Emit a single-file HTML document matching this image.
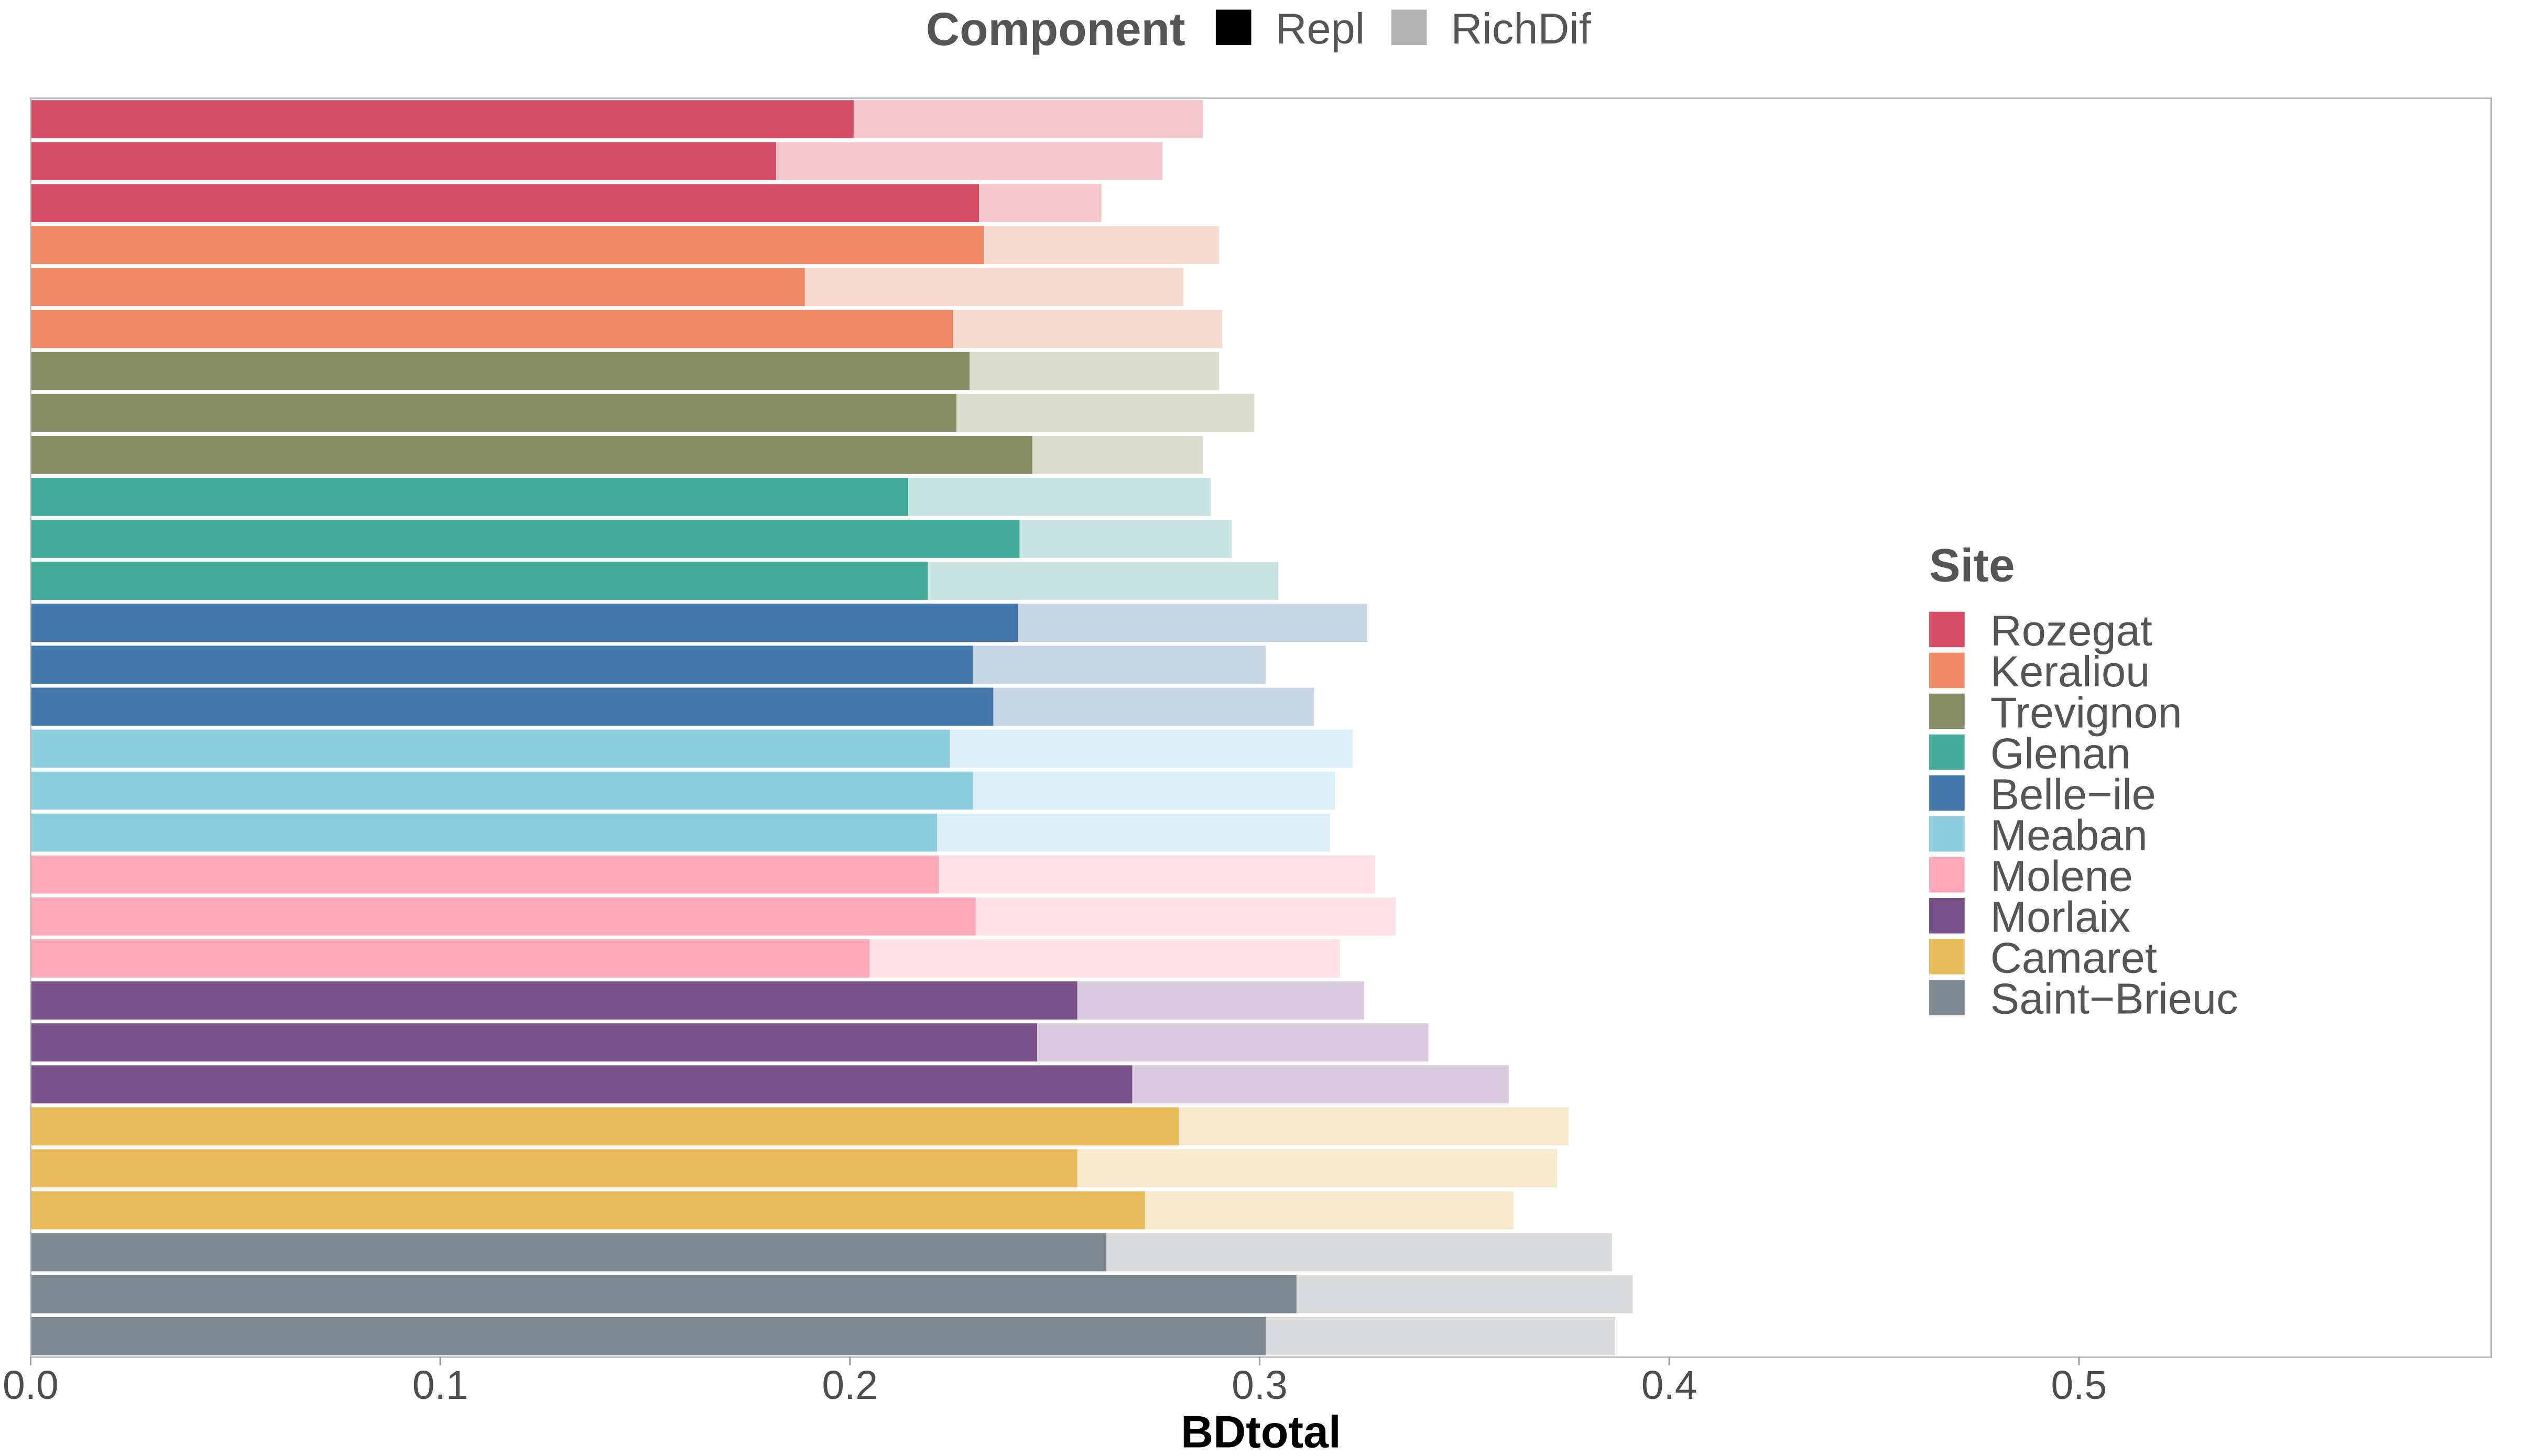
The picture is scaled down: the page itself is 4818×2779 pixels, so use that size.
<!DOCTYPE html>
<html><head><meta charset="utf-8"><style>
html,body{margin:0;padding:0;background:#fff}
svg{display:block;font-family:"Liberation Sans",Arial,sans-serif}
</style></head><body>
<svg id="chart" width="4818" height="2779" viewBox="0 0 1568 904.4" xmlns="http://www.w3.org/2000/svg">
<rect x="0" y="0" width="1568" height="905" fill="#fff"/>
<g id="bars"></g>
<rect x="19" y="61" width="1528" height="782" fill="none" stroke="#BDBDBD" stroke-width="1"/>
<g id="xaxis"></g>
<text x="783" y="899" text-anchor="middle" font-size="28" font-weight="bold" fill="#000">BDtotal</text>
<g>
<text x="575" y="28" font-size="29" font-weight="bold" fill="#555">Component</text>
<rect x="755" y="6" width="22" height="22" fill="#000"/>
<text x="792" y="27" font-size="27" fill="#555">Repl</text>
<rect x="864" y="6" width="22" height="22" fill="#B3B3B3"/>
<text x="901" y="27" font-size="27" fill="#555">RichDif</text>
</g>
<g id="sitelegend">
<text x="1198" y="361" font-size="29" font-weight="bold" fill="#555">Site</text>
</g>
</svg>
<script>
const sites = ["Rozegat","Keraliou","Trevignon","Glenan","Belle-ile","Meaban","Molene","Morlaix","Camaret","Saint-Brieuc"];
const siteColors = ["#D64F66","#EE8A67","#858B62","#45AB99","#4377A9","#8ECDDD","#FFA8BA","#7B518A","#E7BB5A","#7F878F"];
const siteLight = ["#F2C8CE","#F8DAD0","#DBDDD1","#C8E6E1","#C7D6E5","#DDF0F5","#FFE2E8","#D8CBDD","#F7E9CC","#D9DBDD"];
const barSite = [0,0,0,1,1,1,2,2,2,3,3,3,4,4,4,5,5,5,6,6,6,7,7,7,8,8,8,9,9,9];
const replValues = [0.2009,0.182,0.2315,0.2327,0.189,0.2252,0.2292,0.226,0.2445,0.2142,0.2414,0.219,0.241,0.23,0.235,0.2244,0.23,0.2213,0.2217,0.2307,0.2048,0.2555,0.2457,0.2689,0.2803,0.2555,0.272,0.2626,0.309,0.3015];
const totalValues = [0.2862,0.2763,0.2614,0.2901,0.2814,0.2909,0.2901,0.2987,0.2862,0.2881,0.2932,0.3046,0.3263,0.3015,0.3133,0.3227,0.3184,0.3172,0.3282,0.3333,0.3196,0.3255,0.3412,0.3608,0.3754,0.3726,0.362,0.386,0.3911,0.3868];
const xTicks = [0,0.1,0.2,0.3,0.4,0.5];
const xTickLabels = ["0.0","0.1","0.2","0.3","0.4","0.5"];

(function(){
const NS="http://www.w3.org/2000/svg";
const x0=19, pxPerUnit=2544, plotTop=61, plotBottom=843;
const xScale=v=>x0+v*pxPerUnit;
const band=(plotBottom-plotTop)/replValues.length;
const yScale=i=>plotTop+i*band;
function mk(tag,attrs){const e=document.createElementNS(NS,tag);for(const k in attrs)e.setAttribute(k,attrs[k]);return e;}
const bars=document.getElementById('bars');
for(let i=0;i<replValues.length;i++){
  const y=yScale(i)+1.2, h=band-2.4, s=barSite[i];
  const r2=mk('rect',{x:xScale(replValues[i]),y:y,width:xScale(totalValues[i])-xScale(replValues[i]),height:h,fill:siteLight[s]});
  
  
  bars.appendChild(r2);
  const r1=mk('rect',{x:xScale(0),y:y,width:xScale(replValues[i])-xScale(0),height:h,fill:siteColors[s]});
  
  
  bars.appendChild(r1);
}
const xa=document.getElementById('xaxis');
xTicks.forEach((t,i)=>{
  const l=mk('line',{x1:xScale(t),x2:xScale(t),y1:843,y2:848,stroke:'#999','stroke-width':1});
  
  
  xa.appendChild(l);
  const tx=mk('text',{x:xScale(t),y:869,'text-anchor':'middle','font-size':25,fill:'#4d4d4d'});
  tx.textContent=xTickLabels[i];
  
  
  xa.appendChild(tx);
});
const lg=document.getElementById('sitelegend');
sites.forEach((s,i)=>{
  const y=380+i*25.4;
  const r=mk('rect',{x:1198,y:y,width:22,height:22,fill:siteColors[i]});
  
  
  lg.appendChild(r);
  const t=mk('text',{x:1236,y:y+21,'font-size':27,fill:'#555'});
  t.textContent=s.replace('-','\u2212');
  
  
  lg.appendChild(t);
});
})();
</script>
</body></html>
